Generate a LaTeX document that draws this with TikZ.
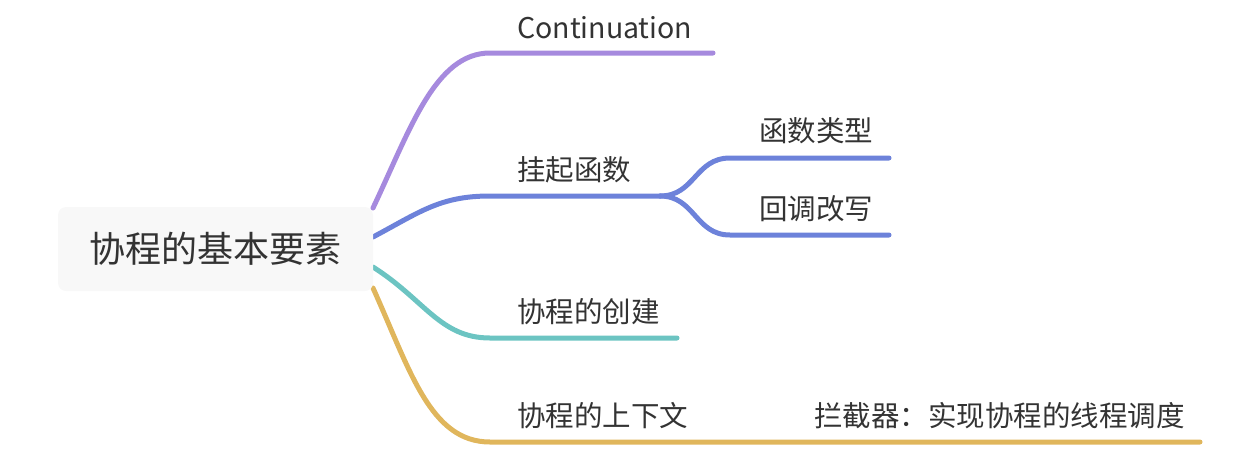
\documentclass[tikz,border=0pt]{standalone}
\usepackage{fontspec}
\setmainfont{Noto Sans CJK SC}
\definecolor{cpurple}{HTML}{A68ADE}
\definecolor{cblue}{HTML}{6D82DA}
\definecolor{cteal}{HTML}{6CC4C2}
\definecolor{cgold}{HTML}{E0B65C}
\definecolor{ctext}{HTML}{333333}
\definecolor{crootfill}{HTML}{F8F8F8}
\tikzset{
  rootbox/.style={fill=crootfill, rounded corners=8pt, minimum width=315pt, minimum height=84pt, inner sep=0pt, text=ctext, font=\fontsize{36}{42}\selectfont},
  lbl/.style={anchor=west, inner sep=0pt, text=ctext, font=\fontsize{28.5}{33}\selectfont},
  branch/.style={line width=5pt, line cap=round},
}
\begin{document}
\begin{tikzpicture}[x=1pt,y=-1pt]
\useasboundingbox (0,0) rectangle (1251,459);
% endpoints
\coordinate (s1) at (373,208);
\coordinate (a1) at (490,53);
\coordinate (e1) at (713,53);
\coordinate (s2) at (373,237);
\coordinate (a2) at (490,196);
\coordinate (m2) at (660,196);
\coordinate (a21) at (730,158);
\coordinate (e21) at (889,158);
\coordinate (a22) at (730,235);
\coordinate (e22) at (889,235);
\coordinate (s3) at (373,267);
\coordinate (a3) at (490,338);
\coordinate (e3) at (677,338);
\coordinate (s4) at (373,288);
\coordinate (a4) at (490,442);
\coordinate (e4) at (1200,442);
% connectors
\draw[branch, cpurple] (s1) .. controls (410,130) and (435,53) .. (a1) -- (e1);
\draw[branch, cblue] (s2) .. controls (420,212) and (440,196) .. (a2) -- (m2);
\draw[branch, cblue] (m2) .. controls (695,196) and (695,158) .. (a21) -- (e21);
\draw[branch, cblue] (m2) .. controls (695,196) and (695,235) .. (a22) -- (e22);
\draw[branch, cteal] (s3) .. controls (425,300) and (440,338) .. (a3) -- (e3);
\draw[branch, cgold] (s4) .. controls (410,370) and (430,442) .. (a4) -- (e4);
% nodes
\node[rootbox] (root) at (215.5,249) {协程的基本要素};
\node[lbl] (cont) at (517,28) {Continuation};
\node[lbl] (gua) at (517,170) {挂起函数};
\node[lbl] (hs) at (759,131) {函数类型};
\node[lbl] (hd) at (759,209) {回调改写};
\node[lbl] (cj) at (517,312) {协程的创建};
\node[lbl] (sxw) at (517,416) {协程的上下文};
\node[lbl] (ljq) at (814,416) {拦截器：实现协程的线程调度};
\end{tikzpicture}
\end{document}
